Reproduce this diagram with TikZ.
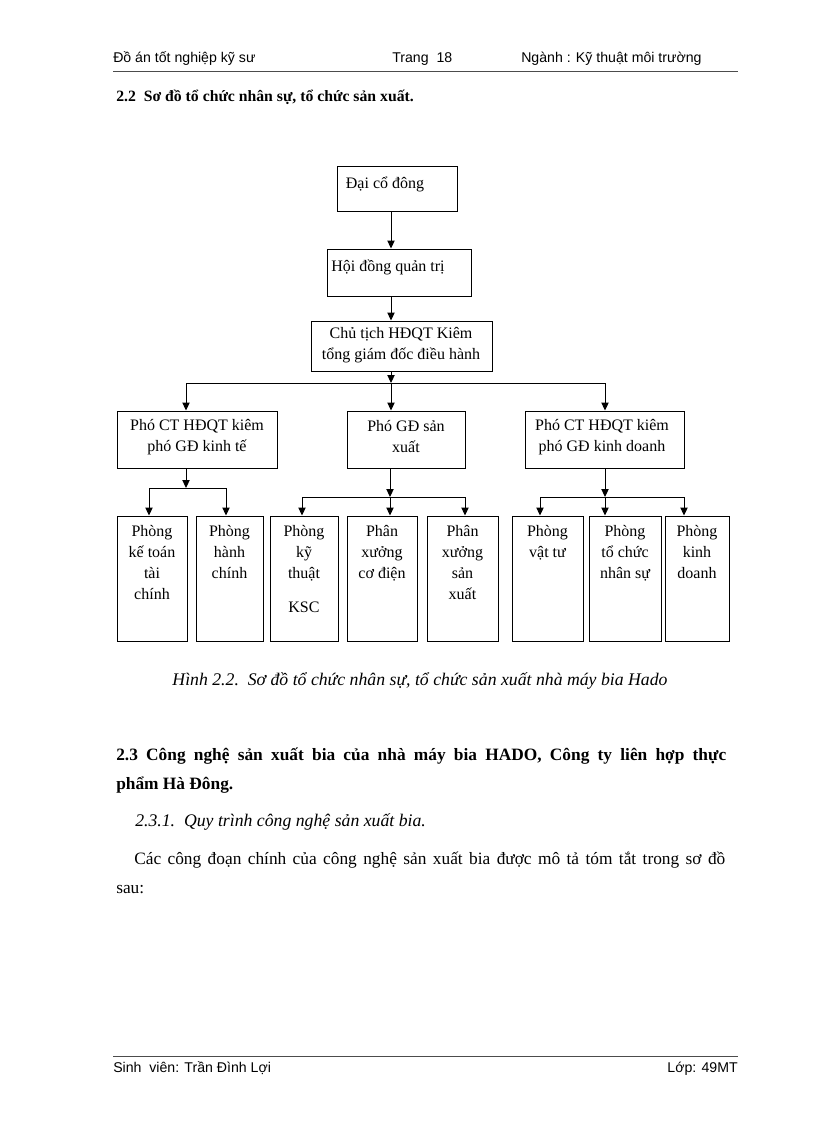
\documentclass[tikz,border=0pt]{standalone}
\usepackage{fontspec}
\setmainfont{Liberation Serif}
\setsansfont{Liberation Sans}
\usetikzlibrary{arrows.meta}
\begin{document}
\begin{tikzpicture}[x=0.75pt,y=-0.75pt,
  boxx/.style n args={2}{draw,line width=0.75pt,rectangle,inner sep=0pt,minimum width=#1*0.75pt,minimum height=#2*0.75pt},
  btxt/.style={inner sep=0pt,align=center,font=\fontsize{12}{15.75}\selectfont},
  arr/.style={line width=0.75pt,-{Triangle[length=6pt,width=5.5pt]}},
  ln/.style={line width=0.75pt},
  hdr/.style={inner sep=0pt,font=\sffamily\fontsize{10.6}{12}\selectfont},
  body/.style={inner sep=0pt,font=\fontsize{13}{16}\selectfont}]
\useasboundingbox (0,0) rectangle (816,1123);
\fill[white] (0,0) rectangle (816,1123);
% header / footer
\node[hdr,anchor=base west] (h1) at (113,63) {Đồ án tốt nghiệp kỹ sư};
\node[hdr,anchor=base west] (h2) at (392,63) {Trang\ \ 18};
\node[hdr,anchor=base west] (h3) at (521,63) {Ngành : Kỹ thuật môi trường};
\draw[line width=0.75pt,black!70] (113,72) -- (738,72);
\draw[line width=0.75pt,black!70] (113,1056) -- (738,1056);
\node[hdr,anchor=base west] (f1) at (113,1072) {Sinh\ \ viên: Trần Đình Lợi};
\node[hdr,anchor=base east] (f2) at (738,1072) {Lớp: 49MT};
% headings
\node[body,font=\bfseries\fontsize{11.8}{16}\selectfont,anchor=base west] (s22) at (116,102) {2.2\ \ Sơ đồ tổ chức nhân sự, tổ chức sản xuất.};
% boxes
\node[boxx={120}{45}] (b1) at (397,189.5) {};
\node[boxx={144}{47}] (b2) at (399,272.5) {};
\node[boxx={181}{50}] (b3) at (401.5,346) {};
\node[boxx={160}{57}] (m1) at (197,439.5) {};
\node[boxx={118}{57}] (m2) at (406,439.5) {};
\node[boxx={159}{57}] (m3) at (604.5,439.5) {};
\node[boxx={70}{125}] (p1) at (152,578.5) {};
\node[boxx={67}{125}] (p2) at (229.5,578.5) {};
\node[boxx={68}{125}] (p3) at (304,578.5) {};
\node[boxx={70}{125}] (p4) at (382,578.5) {};
\node[boxx={71}{125}] (p5) at (462.5,578.5) {};
\node[boxx={71}{125}] (p6) at (547.5,578.5) {};
\node[boxx={72}{125}] (p7) at (625,578.5) {};
\node[boxx={64}{125}] (p8) at (697,578.5) {};
% box texts
\node[btxt] (t1) at (385,184) {Đại cổ đông};
\node[btxt] (t2) at (388,267) {Hội đồng quản trị};
\node[btxt] (t3) at (401,345.5) {Chủ tịch HĐQT Kiêm\\tổng giám đốc điều hành};
\node[btxt] (tm1) at (197,437) {Phó CT HĐQT kiêm\\phó GĐ kinh tế};
\node[btxt] (tm2) at (406,437) {Phó GĐ sản\\xuất};
\node[btxt] (tm3) at (602,437) {Phó CT HĐQT kiêm\\phó GĐ kinh doanh};
\node[btxt,anchor=north] (tp1) at (152,525) {Phòng\\kế toán\\tài\\chính};
\node[btxt,anchor=north] (tp2) at (229.5,525) {Phòng\\hành\\chính};
\node[btxt,anchor=north] (tp3) at (304,525) {Phòng\\kỹ\\thuật\\[10pt]KSC};
\node[btxt,anchor=north] (tp4) at (382,525) {Phân\\xưởng\\cơ điện};
\node[btxt,anchor=north] (tp5) at (462.5,525) {Phân\\xưởng\\sản\\xuất};
\node[btxt,anchor=north] (tp6) at (547.5,525) {Phòng\\vật tư};
\node[btxt,anchor=north] (tp7) at (625,525) {Phòng\\tổ chức\\nhân sự};
\node[btxt,anchor=north] (tp8) at (697,525) {Phòng\\kinh\\doanh};
% coordinates
\coordinate (xc) at (391,0);
\coordinate (bus0) at (391,383);
\coordinate (busL) at (186,383);
\coordinate (busR) at (605,383);
\coordinate (sL) at (186,488);
\coordinate (sL1) at (149,488);
\coordinate (sL2) at (226,488);
\coordinate (sM) at (390,497);
\coordinate (sM1) at (302,497);
\coordinate (sM2) at (465,497);
\coordinate (sR) at (605,497);
\coordinate (sR1) at (540,497);
\coordinate (sR2) at (684,497);
% connectors
\draw[arr] (b1.south -| xc) -- (b2.north -| xc);
\draw[arr] (b2.south -| xc) -- (b3.north -| xc);
\draw[arr] (b3.south -| xc) -- (bus0);
\draw[ln] (busL) -- (busR);
\draw[arr] (busL) -- (m1.north -| busL);
\draw[arr] (bus0) -- (m2.north -| bus0);
\draw[arr] (busR) -- (m3.north -| busR);
\draw[arr] (m1.south -| sL) -- (sL);
\draw[ln] (sL1) -- (sL2);
\draw[arr] (sL1) -- (p1.north -| sL1);
\draw[arr] (sL2) -- (p2.north -| sL2);
\draw[arr] (m2.south -| sM) -- (sM);
\draw[ln] (sM1) -- (sM2);
\draw[arr] (sM1) -- (p3.north -| sM1);
\draw[arr] (sM) -- (p4.north -| sM);
\draw[arr] (sM2) -- (p5.north -| sM2);
\draw[arr] (m3.south -| sR) -- (sR);
\draw[ln] (sR1) -- (sR2);
\draw[arr] (sR1) -- (p6.north -| sR1);
\draw[arr] (sR) -- (p7.north -| sR);
\draw[arr] (sR2) -- (p8.north -| sR2);
% caption and text
\node[inner sep=0pt,font=\itshape\fontsize{13.3}{15}\selectfont,anchor=base] (cap) at (420,685) {Hình 2.2.\ \ Sơ đồ tổ chức nhân sự, tổ chức sản xuất nhà máy bia Hado};
\node[body,font=\bfseries\fontsize{13}{16}\selectfont,anchor=base west] (s23a) at (116,760) {\makebox[457.5pt][s]{2.3 Công nghệ sản xuất bia của nhà máy bia HADO, Công ty liên hợp thực}};
\node[body,font=\bfseries\fontsize{13}{16}\selectfont,anchor=base west] (s23b) at (116,789) {phẩm Hà Đông.};
\node[body,font=\itshape\fontsize{13.3}{16}\selectfont,anchor=base west] (s231) at (135,826) {2.3.1.\ \ Quy trình công nghệ sản xuất bia.};
\node[body,anchor=base west] (p1a) at (134,864) {\makebox[443.25pt][s]{Các công đoạn chính của công nghệ sản xuất bia được mô tả tóm tắt trong sơ đồ}};
\node[body,anchor=base west] (p1b) at (116,893) {sau:};
\end{tikzpicture}
\end{document}
